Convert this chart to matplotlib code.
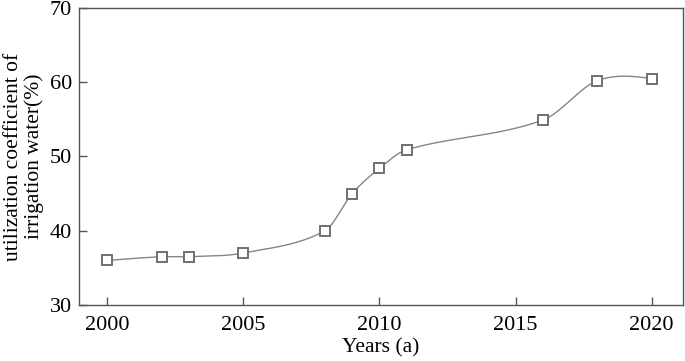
import matplotlib
matplotlib.use("Agg")
import matplotlib.pyplot as plt
import numpy as np

# data
years = [2000, 2002, 2003, 2005, 2008, 2009, 2010, 2011, 2016, 2018, 2020]
coef = [36.0, 36.5, 36.5, 37.0, 40.0, 45.0, 48.4, 50.9, 54.9, 60.2, 60.5]
xticks = [2000, 2005, 2010, 2015, 2020]
yticks = [30, 40, 50, 60, 70]


def smooth_line(x, y, xs):
    # cubic Hermite through the points (finite-difference tangents),
    # only used to draw the smooth connecting line like the original
    x = np.asarray(x, float)
    y = np.asarray(y, float)
    n = len(x)
    m = np.empty(n)
    m[1:-1] = (y[2:] - y[:-2]) / (x[2:] - x[:-2])
    d0 = (y[1] - y[0]) / (x[1] - x[0])
    dn = (y[-1] - y[-2]) / (x[-1] - x[-2])
    m[0] = (3 * d0 - m[1]) / 2
    m[-1] = (3 * dn - m[-2]) / 2
    i = np.clip(np.searchsorted(x, xs, side="right") - 1, 0, n - 2)
    h = x[i + 1] - x[i]
    t = (xs - x[i]) / h
    h00 = 2 * t**3 - 3 * t**2 + 1
    h10 = t**3 - 2 * t**2 + t
    h01 = -2 * t**3 + 3 * t**2
    h11 = t**3 - t**2
    return h00 * y[i] + h10 * h * m[i] + h01 * y[i + 1] + h11 * h * m[i + 1]


plt.rcParams.update({
    "font.family": ["Liberation Serif", "DejaVu Serif"],
})

fig = plt.figure(figsize=(6.85, 3.61), dpi=100)
ax = fig.add_axes([79 / 685, 1 - 305 / 361, 604 / 685, 297 / 361])

xs = np.linspace(years[0], years[-1], 500)
ax.plot(xs, smooth_line(years, coef, xs), color="#858585", lw=1.0, zorder=2)
ax.plot(years, coef, ls="none", marker="s", ms=6.5, mfc="white",
        mec="#707070", mew=1.4, zorder=3)

ax.set_xlim(1998.97, 2021.15)
ax.set_ylim(30, 70)
ax.set_xticks(xticks)
ax.set_yticks(yticks)
ax.tick_params(direction="in", length=6, width=1, color="#555555",
               labelsize=16, top=False, right=False)
ax.tick_params(axis="x", pad=8)
ax.tick_params(axis="y", pad=5)
for s in ax.spines.values():
    s.set_color("#555555")
    s.set_linewidth(1.0)

ax.set_xlabel("Years (a)", fontsize=15.5, labelpad=2)
ax.set_ylabel("utilization coefficient of\nirrigation water(%)", fontsize=15.5,
              labelpad=4, linespacing=1.12)

fig.savefig("out.png", dpi=100)
